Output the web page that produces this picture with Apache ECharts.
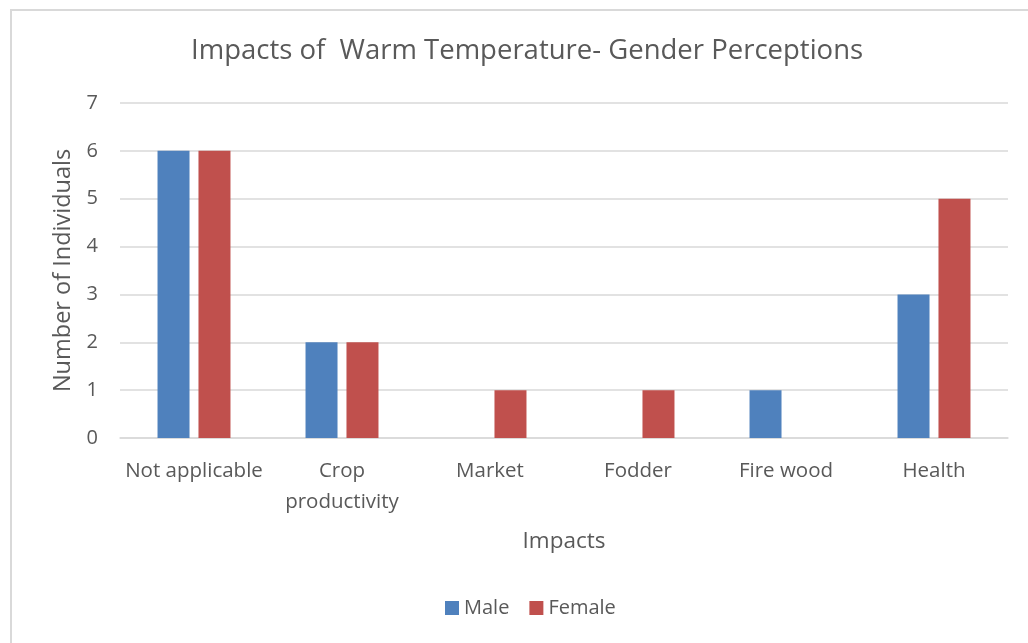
<!DOCTYPE html>
<html>
<head>
<meta charset="utf-8">
<script src="https://cdn.jsdelivr.net/npm/echarts@6/dist/echarts.min.js"></script>
<style>
  html, body { margin: 0; padding: 0; background: #fff; }
  #frame {
    position: absolute; left: 10px; top: 9px; width: 1030px; height: 650px;
    border: 2px solid #d9d9d9; box-sizing: border-box;
  }
  #chart { position: absolute; left: 0; top: 0; width: 1028px; height: 643px; }
</style>
</head>
<body>
<div id="frame"></div>
<div id="chart"></div>
<script>
var categories = ['Not applicable', 'Crop\nproductivity', 'Market', 'Fodder', 'Fire wood', 'Health']
var maleData = [6, 2, 0, 0, 1, 3]
var femaleData = [6, 2, 1, 1, 0, 5]

var chart = echarts.init(document.getElementById('chart'))
var font = 'Open Sans'
var option = {
  title: {
    text: 'Impacts of  Warm Temperature- Gender Perceptions',
    left: 186,
    top: 32,
    textStyle: { color: '#595959', fontSize: 27.5, fontWeight: 'normal', fontFamily: font }
  },
  legend: {
    bottom: 20,
    left: 440,
    itemWidth: 14,
    itemHeight: 14,
    itemGap: 20,
    icon: 'rect',
    data: ['Male', 'Female'],
    textStyle: { color: '#595959', fontSize: 20, fontFamily: font }
  },
  grid: { left: 120, right: 20, top: 103, bottom: 205 },
  xAxis: {
    type: 'category',
    data: categories,
    name: 'Impacts',
    nameLocation: 'middle',
    nameGap: 92,
    nameTextStyle: { color: '#595959', fontSize: 22.5, fontFamily: font },
    axisTick: { show: false },
    axisLine: { lineStyle: { color: '#d9d9d9', width: 1.5 } },
    axisLabel: { color: '#595959', fontSize: 20.5, fontFamily: font, margin: 18, lineHeight: 31, interval: 0 }
  },
  yAxis: {
    type: 'value',
    min: 0,
    max: 7,
    interval: 1,
    name: 'Number of Individuals',
    nameLocation: 'middle',
    nameGap: 45,
    nameTextStyle: { color: '#595959', fontSize: 23.5, fontFamily: font },
    axisLine: { show: false },
    axisTick: { show: false },
    axisLabel: { color: '#595959', fontSize: 20, fontFamily: font, margin: 22 },
    splitLine: { lineStyle: { color: '#d9d9d9', width: 1.5 } }
  },
  series: [
    {
      name: 'Male',
      type: 'bar',
      data: maleData,
      barWidth: 32,
      barGap: '28%',
      itemStyle: { color: '#4F81BD' }
    },
    {
      name: 'Female',
      type: 'bar',
      data: femaleData,
      barWidth: 32,
      itemStyle: { color: '#C0504D' }
    }
  ]
}
chart.setOption(option)
</script>
</body>
</html>
